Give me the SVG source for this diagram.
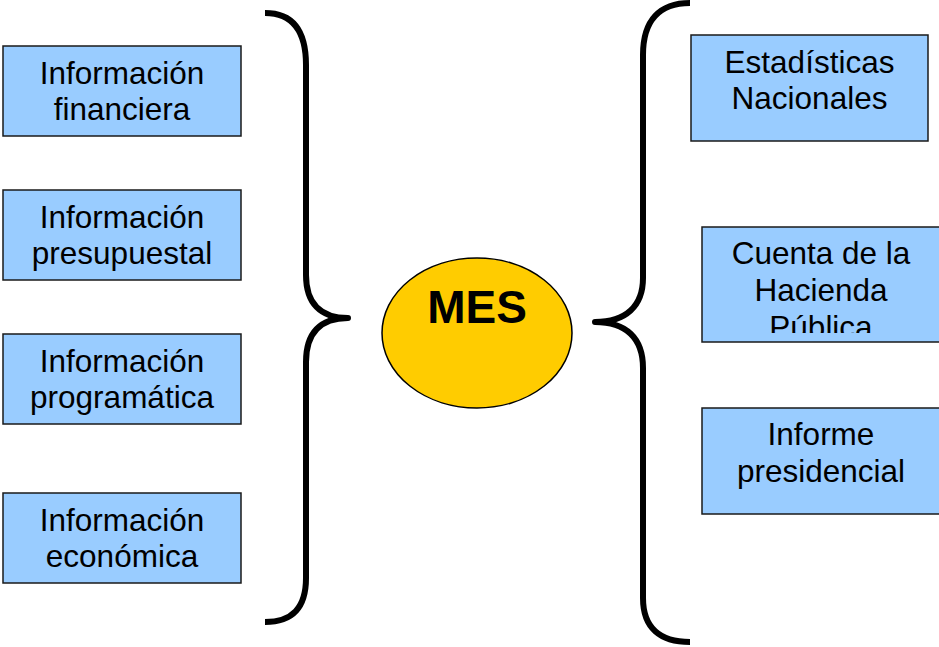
<svg xmlns="http://www.w3.org/2000/svg" width="939" height="647" viewBox="0 0 939 647">
<style>
.box{fill:#99CCFF;stroke:#1a1a1a;stroke-width:1.5}
.t{font-family:"Liberation Sans",Arial,sans-serif;font-size:31.5px;fill:#000;text-anchor:middle}
.brace{fill:none;stroke:#000;stroke-width:6;stroke-linecap:butt;stroke-linejoin:round}
</style>
<defs>
<clipPath id="clipCuenta"><rect x="702" y="227" width="240" height="106"/></clipPath>
</defs>
<rect width="939" height="647" fill="#fff"/>
<g id="connectors">
<path class="brace" d="M265,13 C292,13 306,30 306,65 L306,275 C306,303 320,318 348,318 C320,318 306,333 306,362 L306,578 C306,608 292,622 265,622"/>
<path class="brace" d="M690,3 C660,3 643,20 643,55 L643,278 C643,306 626,322 595,322 C626,322 643,338 643,368 L643,598 C643,628 660,642 690,642"/>
</g>
<g id="fin">
<rect class="box" x="3" y="46" width="238" height="90"/>
<text class="t" x="122" y="84">Información</text>
<text class="t" x="122" y="120">financiera</text>
</g>
<g id="pres">
<rect class="box" x="3" y="190" width="238" height="90"/>
<text class="t" x="122" y="228">Información</text>
<text class="t" x="122" y="264">presupuestal</text>
</g>
<g id="prog">
<rect class="box" x="3" y="334" width="238" height="90"/>
<text class="t" x="122" y="372">Información</text>
<text class="t" x="122" y="408">programática</text>
</g>
<g id="econ">
<rect class="box" x="3" y="493" width="238" height="90"/>
<text class="t" x="122" y="531">Información</text>
<text class="t" x="122" y="567">económica</text>
</g>
<g id="mes">
<ellipse cx="477" cy="333" rx="95" ry="75" fill="#FFCC00" stroke="#000" stroke-width="1.5"/>
<text x="477" y="323" font-family="Liberation Sans,Arial,sans-serif" font-size="46" font-weight="bold" text-anchor="middle">MES</text>
</g>
<g id="estad">
<rect class="box" x="691" y="35" width="237" height="106"/>
<text class="t" x="809.5" y="73">Estadísticas</text>
<text class="t" x="809.5" y="109">Nacionales</text>
</g>
<g id="cuenta">
<rect class="box" x="702" y="227" width="240" height="115"/>
<g clip-path="url(#clipCuenta)">
<text class="t" x="821" y="264">Cuenta de la</text>
<text class="t" x="821" y="301">Hacienda</text>
<text class="t" x="821" y="338">Pública</text>
</g>
</g>
<g id="informe">
<rect class="box" x="702" y="408" width="240" height="106"/>
<text class="t" x="821" y="445">Informe</text>
<text class="t" x="821" y="482">presidencial</text>
</g>
</svg>
